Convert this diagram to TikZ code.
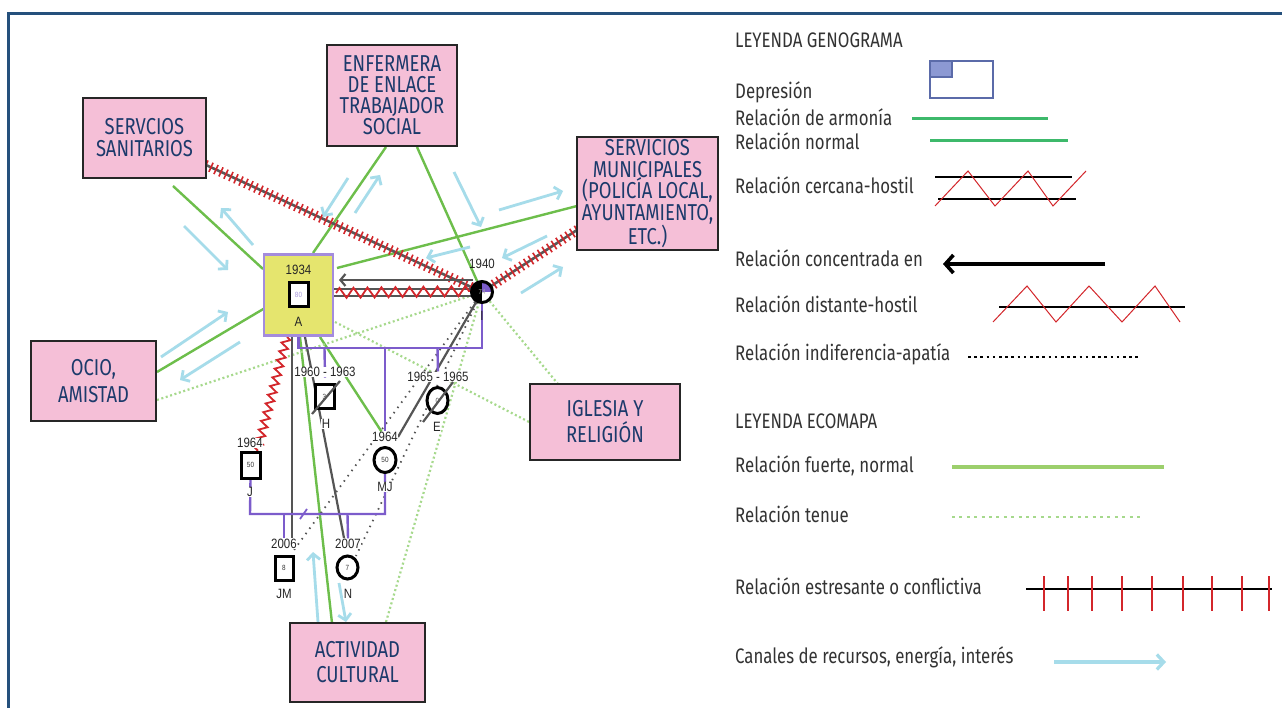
\documentclass[tikz,border=0pt]{standalone}
\usepackage{fontspec}
\setmainfont{Fira Sans}[FakeStretch=0.8]
\newfontfamily\genofont{Liberation Sans}[FakeStretch=0.85]
\usetikzlibrary{arrows.meta,decorations.pathmorphing,decorations.pathreplacing,shapes.geometric}
\definecolor{boxpink}{HTML}{F5BFD7}
\definecolor{navy}{HTML}{1C3A6B}
\definecolor{frameblue}{HTML}{25507C}
\definecolor{ayellow}{HTML}{E5E56E}
\definecolor{apurple}{HTML}{A48CDD}
\definecolor{mpurple}{HTML}{7C5CCB}
\definecolor{ecogreen}{HTML}{6DBE4B}
\definecolor{tenuegreen}{HTML}{A6D98C}
\definecolor{chanblue}{HTML}{A6DCEA}
\definecolor{hred}{HTML}{D3262B}
\definecolor{lgrey}{HTML}{555555}
\definecolor{legtext}{HTML}{333333}
\definecolor{armgreen}{HTML}{3DB96B}
\definecolor{fuertegreen}{HTML}{9CCF6C}
\definecolor{depborder}{HTML}{5B6BA9}
\definecolor{depfill}{HTML}{8C99D3}
\definecolor{numpurple}{HTML}{A898DC}
\pgfdeclarelayer{bg}
\pgfsetlayers{bg,main}
\begin{document}
\begin{tikzpicture}[x=1pt,y=-1pt,
  ecobox/.style={draw=black!85, line width=1.8pt, fill=boxpink, text=navy, align=center, inner sep=0pt, font=\fontsize{23}{#1}\selectfont},
  legtxt/.style={anchor=base west, text=legtext, inner sep=0pt, font=\fontsize{21}{24}\selectfont},
  geno/.style={inner sep=0.6pt, fill=white, text=black!85, font=\genofont\fontsize{13.5}{14}\selectfont},
  genoin/.style={inner sep=0pt, font=\genofont\fontsize{7.5}{8}\selectfont},
  sq/.style={draw=black, line width=3pt, fill=white, minimum width=19pt, minimum height=24pt, inner sep=0pt},
  ci/.style={ellipse, draw=black, line width=3pt, fill=white, minimum width=22pt, minimum height=25pt, inner sep=0pt},
  marr/.style={draw=mpurple, line width=2.4pt},
  eco/.style={draw=ecogreen, line width=2.4pt},
  tenue/.style={draw=tenuegreen, line width=2.2pt, dash pattern=on 2pt off 2.6pt},
  chan/.style={draw=chanblue, line width=2.8pt, -{Straight Barb[length=6pt,width=13pt]}},
  stress/.style={draw=black!65, line width=2.6pt, postaction={draw=hred, line width=1.6pt, decorate, decoration={ticks, segment length=5.5pt, amplitude=5pt}}},
  zz/.style={draw=hred, line width=1.8pt, decorate, decoration={zigzag, segment length=#1, amplitude=5pt}},
  gline/.style={draw=lgrey, line width=2.2pt},
  gdot/.style={draw=lgrey, line width=1.8pt, dash pattern=on 1.5pt off 5pt},
]
\useasboundingbox (0,0) rectangle (1282,708);
\begin{pgfonlayer}{bg}
\fill[white] (0,0) rectangle (1282,708);
\end{pgfonlayer}
\draw[frameblue, line width=2.2pt] (8.5,708) -- (8.5,13.5) -- (1282,13.5);

% ---------- ecomap boxes ----------
\node[ecobox=22, minimum width=123pt, minimum height=80pt] (san) at (144.5,138) {SERVCIOS\\SANITARIOS};
\node[ecobox=21, minimum width=130pt, minimum height=101pt] (enf) at (392,95.5) {ENFERMERA\\DE ENLACE\\TRABAJADOR\\SOCIAL};
\node[ecobox=21.5, minimum width=141pt, minimum height=113pt] (mun) at (647.5,193.5) {SERVICIOS\\MUNICIPALES\\(POLICÍA LOCAL,\\AYUNTAMIENTO,\\ETC.)};
\node[ecobox=27, minimum width=125pt, minimum height=80pt] (ocio) at (93.5,381) {OCIO,\\AMISTAD};
\node[ecobox=26, minimum width=150pt, minimum height=76pt] (igl) at (605,422) {IGLESIA Y\\RELIGIÓN};
\node[ecobox=25, minimum width=135pt, minimum height=79pt] (act) at (357.5,662.5) {ACTIVIDAD\\CULTURAL};

% ---------- genogram persons ----------
\node[draw=apurple, line width=2.8pt, fill=ayellow, minimum width=69pt, minimum height=81pt, inner sep=0pt] (A) at (298.5,295) {};
\node[sq, text=numpurple] (Asq) at (298.5,294.5) {\genofont\fontsize{7.5}{8}\selectfont 80};
\node[geno, fill=none] (Ay) at (298.5,270) {1934};
\node[geno, fill=none] (An) at (298.5,322) {A};

\begin{scope}
  \clip (482,292) circle[radius=10pt];
  \fill[white] (470,280) rectangle (494,304);
  \fill[black] (470,280) rectangle (482,304);
  \fill[mpurple] (482,280) rectangle (494,292);
\end{scope}
\node[circle, draw=black, line width=3pt, minimum size=21pt, inner sep=0pt, text=white!70!black] (I) at (482,292) {\genofont\fontsize{7}{8}\selectfont 74};
\node[geno, fill=none] (Iy) at (482,264) {1940};
\node[geno, fill=none] (In) at (482,316) {I};

\node[sq] (H) at (324.5,396.5) {};
\node[genoin, text=black!70] at (H) {3};
\node[geno] (Hy) at (325,372) {1960 - 1963};
\node[geno] (Hn) at (326,424) {H};

\node[ci, minimum width=21pt, minimum height=26pt] (E) at (437.5,400.5) {};
\node[genoin, text=black!70] at (E) {0};
\node[geno] (Ey) at (438,377) {1965 - 1965};
\node[geno] (En) at (437,427) {E};

\node[sq, minimum height=26pt] (J) at (250.5,465) {};
\node[genoin, text=black!80] at (J) {50};
\node[geno] (Jy) at (250,443) {1964};
\node[geno] (Jn) at (250,492) {J};

\node[ci] (MJ) at (385,460) {};
\node[genoin, text=black!80] at (MJ) {50};
\node[geno] (MJy) at (385,437) {1964};
\node[geno] (MJn) at (385,487) {MJ};

\node[sq, minimum width=18pt] (JM) at (284,568) {};
\node[genoin, text=black!80] at (JM) {8};
\node[geno] (JMy) at (284,544) {2006};
\node[geno] (JMn) at (284,594) {JM};

\node[ci, minimum width=21pt, minimum height=23pt] (N) at (347.5,567.5) {};
\node[genoin, text=black!80] at (N) {7};
\node[geno] (Ny) at (348,544) {2007};
\node[geno] (Nn) at (348,594) {N};

% ---------- coordinates ----------
\coordinate (g1a) at (173,186); \coordinate (g1b) at (263,269);
\coordinate (g2a) at (386,147); \coordinate (g2b) at (313,253);
\coordinate (g3a) at (417,147);
\coordinate (g4a) at (577,206); \coordinate (g4b) at (337,268);
\coordinate (g5a) at (157,372); \coordinate (g5b) at (265,308);
\coordinate (g6a) at (300,337); \coordinate (g6b) at (332,623);
\coordinate (g7a) at (320,337);
\coordinate (t1a) at (157,400);
\coordinate (t2a) at (335,322);
\coordinate (t3b) at (558,384);
\coordinate (t4a) at (386,622);
\coordinate (s1) at (206,165);
\coordinate (s2) at (577,230);
\coordinate (mA) at (298.5,348); \coordinate (mI) at (482,348);
\coordinate (mJ) at (250,514); \coordinate (mMJ) at (385,514);

\begin{pgfonlayer}{bg}
% ecomap strong lines
\draw[eco] (g1a) -- (g1b);
\draw[eco] (g2a) -- (g2b);
\draw[eco] (g3a) -- (I);
\draw[eco] (g4a) -- (g4b);
\draw[eco] (g5a) -- (g5b);
\draw[eco] (g6a) -- (g6b);
\draw[eco] (g7a) -- (MJy);
% tenue
\draw[tenue] (t1a) -- (I);
\draw[tenue] (t2a) -- (igl.west);
\draw[tenue] (I) -- (t3b);
\draw[tenue] (t4a) -- (I);
% stress
\draw[stress] (s1) -- (I.center);
\draw[stress] (s2) -- (I.center);
% channels
\draw[chan] (184,226) -- (228,270);
\draw[chan] (253,245) -- (221,208);
\draw[chan] (348,178) -- (323,217);
\draw[chan] (355,213) -- (380,175);
\draw[chan] (454,172) -- (481,227);
\draw[chan] (499,210) -- (563,191);
\draw[chan] (547,236) -- (502,258);
\draw[chan] (521,293) -- (563,267);
\draw[chan] (470,247) -- (426,258);
\draw[chan] (161,357) -- (228,312);
\draw[chan] (240,342) -- (180,380);
\draw[chan] (318,622) -- (313,552);
\draw[chan] (339,583) -- (346,622);
% A - I relation
\draw[gline, -{Straight Barb[length=5pt,width=12pt]}] (473,280) -- (339,280);
\draw[gline] (334,289) -- (474,289);
\draw[gline] (334,296) -- (474,296);
\draw[zz=14pt] (336,293) -- (472,291);
% A - J hostile
\draw[draw=hred, line width=1.8pt, decorate, decoration={zigzag, segment length=9pt, amplitude=4pt}] (287,337) -- (257,452);
% genogram grey lines
\draw[gline] (292,336) -- (292,538);
\draw[gline] (305,337) -- (344,538);
\draw[gline] (I) -- (398,437);
\draw[gdot] (I) -- (294,550);
\draw[gdot] (I) -- (356,556);
% marriages and descent
\draw[marr] (A.south) -- (mA) -- (mI) -- (I.south);
\draw[marr] (H.north |- mA) -- (Hy.south);
\draw[marr] (MJ.north |- mA) -- (MJy.north);
\draw[marr] (E.north |- mA) -- (Ey.north);
\draw[marr] (J.south) -- (mJ) -- (mMJ) -- (MJ.south);
\draw[marr] (JM.north |- mJ) -- (JMy.north);
\draw[marr] (N.north |- mJ) -- (Ny.north);
\draw[mpurple, line width=1.8pt] (300,519) -- (307,509);
\end{pgfonlayer}
% strike lines (deceased)
\draw[gline] (312,414) -- (340,381);
\draw[gline] (423,422) -- (453,382);

% ---------- legend ----------
\node[legtxt] (L1) at (735,48) {LEYENDA GENOGRAMA};
\node[legtxt] (L2) at (735,99) {Depresión};
\node[legtxt] (L3) at (735,126) {Relación de armonía};
\node[legtxt] (L4) at (735,150) {Relación normal};
\node[legtxt] (L5) at (735,194) {Relación cercana-hostil};
\node[legtxt] (L6) at (735,266.5) {Relación concentrada en};
\node[legtxt] (L7) at (735,312.5) {Relación distante-hostil};
\node[legtxt] (L8) at (735,360.5) {Relación indiferencia-apatía};
\node[legtxt] (L9) at (735,428) {LEYENDA ECOMAPA};
\node[legtxt] (L10) at (735,472) {Relación fuerte, normal};
\node[legtxt] (L11) at (735,522) {Relación tenue};
\node[legtxt] (L12) at (735,594) {Relación estresante o conflictiva};
\node[legtxt] (L13) at (735,663) {Canales de recursos, energía, interés};

\draw[depborder, line width=2pt] (930,61) rectangle (993,98);
\fill[depfill] (931,62) rectangle (952,77);
\draw[depborder, line width=1.3pt] (930,61) rectangle (952,77);
\draw[armgreen, line width=3pt] (912,119) -- (1048,119);
\draw[armgreen, line width=3pt] (930,141) -- (1068,141);
\draw[black, line width=2.6pt] (935,177) -- (1072,177);
\draw[black, line width=2.6pt] (938,199) -- (1076,199);
\draw[hred, line width=1pt] (935,206) -- (968,171) -- (995,206) -- (1028,171) -- (1053,206) -- (1086,171);
\draw[black, line width=3.6pt, -{Straight Barb[length=8pt,width=18pt]}] (1105,264) -- (943,264);
\draw[black, line width=2.2pt] (999,307) -- (1185,307);
\draw[hred, line width=1pt] (993,322) -- (1027,286) -- (1056,322) -- (1089,286) -- (1122,322) -- (1155,286) -- (1180,322);
\draw[black, line width=2.6pt, dash pattern=on 2.6pt off 3.6pt] (968,357) -- (1140,357);
\draw[fuertegreen, line width=3.2pt] (952,467) -- (1164,467);
\draw[tenuegreen, line width=2.8pt, dash pattern=on 3pt off 4.4pt] (952,517) -- (1143,517);
\draw[black, line width=2.8pt] (1026,589) -- (1272,589);
\foreach \tx in {1044,1068,1092,1122,1152,1183,1212,1242,1269}
  \draw[hred, line width=2.4pt] (\tx,576) -- (\tx,611);
\draw[chanblue, line width=3.2pt, -{Straight Barb[length=7pt,width=15pt]}] (1054,662) -- (1166,662);
\end{tikzpicture}
\end{document}
